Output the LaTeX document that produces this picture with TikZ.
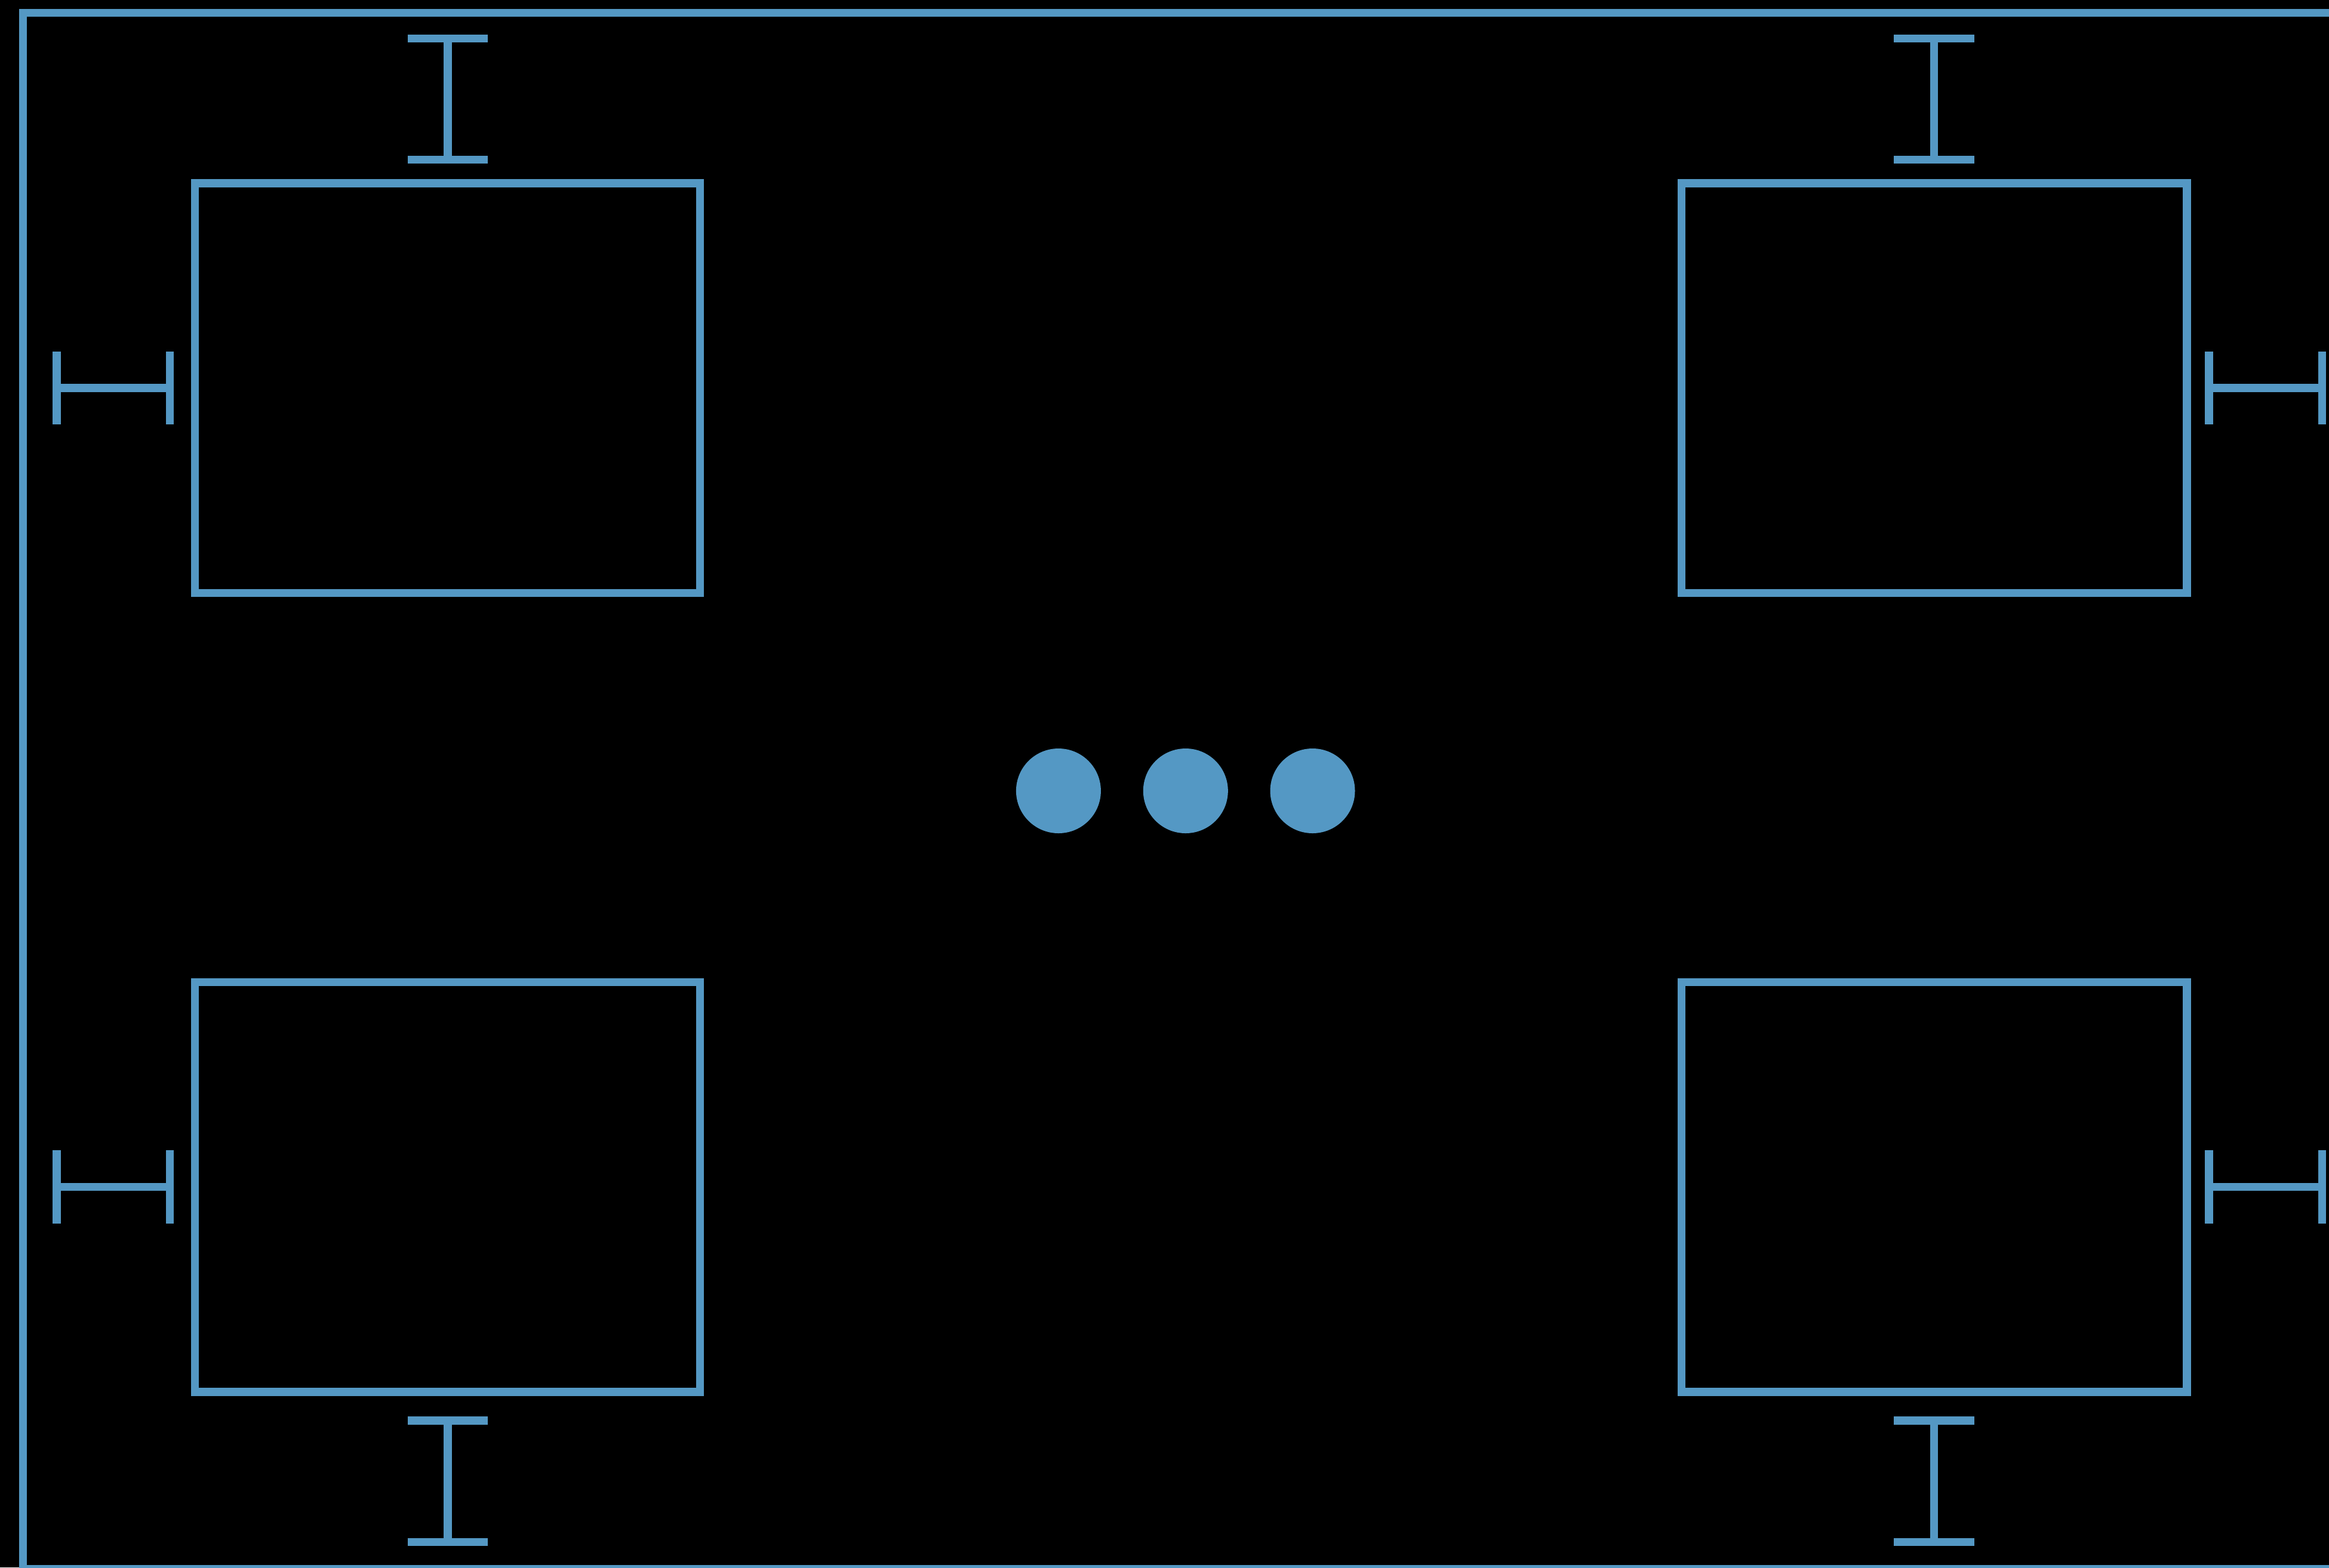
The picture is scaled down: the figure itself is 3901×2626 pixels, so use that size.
\documentclass[tikz,border=0pt]{standalone}
\definecolor{lineblue}{RGB}{84,152,196}
\begin{document}
\begin{tikzpicture}[x=0.01cm,y=-0.01cm,
  wire/.style={draw=lineblue,line width=0.133cm,line cap=butt,line join=miter},
  dotfill/.style={fill=lineblue}]
\fill[black] (0,0) rectangle (3901,2626);
\useasboundingbox (0,0) rectangle (3901,2626);
\begin{scope}
\clip (0,0) rectangle (3901,2626);
% outer frame
\draw[wire] (38.7,21.7) rectangle (3960,2628.7);
\end{scope}
% boxes
\draw[wire] (326.7,307) rectangle (1172.8,993.5);
\draw[wire] (2816.4,307) rectangle (3663,993.5);
\draw[wire] (326.7,1645.2) rectangle (1172.8,2331.8);
\draw[wire] (2816.4,1645.2) rectangle (3663,2331.8);
% I-bars top
\foreach \cx in {749.9,3239.7}{
  \draw[wire] (\cx-67.35,64.7) -- (\cx+67.35,64.7);
  \draw[wire] (\cx-67.35,267.8) -- (\cx+67.35,267.8);
  \draw[wire] (\cx,64.7) -- (\cx,267.8);
  \draw[wire] (\cx-67.35,2380) -- (\cx+67.35,2380);
  \draw[wire] (\cx-67.35,2583.3) -- (\cx+67.35,2583.3);
  \draw[wire] (\cx,2380) -- (\cx,2583.3);
}
% H-bars
\foreach \cy in {650,1988.5}{
  \draw[wire] (95,\cy-61.35) -- (95,\cy+61.35);
  \draw[wire] (284.7,\cy-61.35) -- (284.7,\cy+61.35);
  \draw[wire] (95,\cy) -- (284.7,\cy);
  \draw[wire] (3700,\cy-61.35) -- (3700,\cy+61.35);
  \draw[wire] (3889.7,\cy-61.35) -- (3889.7,\cy+61.35);
  \draw[wire] (3700,\cy) -- (3889.7,\cy);
}
% dots
\foreach \dx in {1772.9,1985.8,2198.5}{
  \fill[dotfill] (\dx,1325) circle[radius=71];
}
\end{tikzpicture}
\end{document}
